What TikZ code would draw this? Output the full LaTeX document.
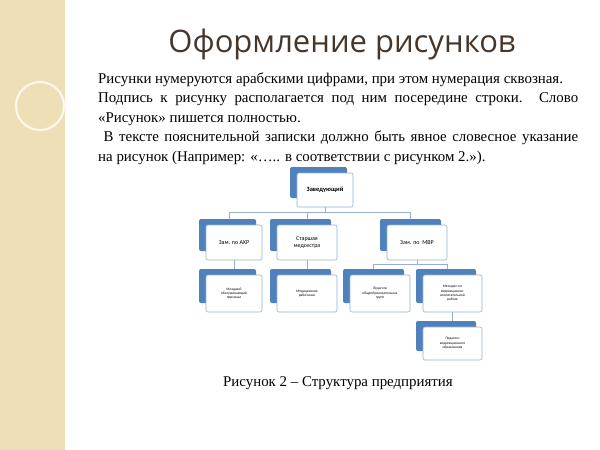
\documentclass[tikz,border=0pt]{standalone}
\usepackage{fontspec}
\setmainfont{Liberation Serif}
\newfontfamily\sansf{Carlito}
\newfontfamily\titlef{Open Sans}
\definecolor{beige}{RGB}{238,223,183}
\definecolor{bblue}{RGB}{79,129,189}
\definecolor{bedge}{RGB}{150,175,210}
\definecolor{titlec}{RGB}{70,55,45}
\tikzset{
 back/.style={fill=bblue,rounded corners=2pt},
 front/.style={fill=white,draw=bedge,line width=0.6pt,rounded corners=2pt},
 lbl/.style={font=\sansf\fontsize{6}{7}\selectfont,align=center},
 sml/.style={font=\sansf\fontsize{3.6}{4.4}\selectfont,align=center},
 conn/.style={draw=bedge,line width=0.8pt},
 txt/.style={anchor=base west,inner sep=0pt,font=\fontsize{14.9}{16}\selectfont}
}
\newcommand{\orgbox}[5]{%
 \fill[back] (#2-7,#3-6) rectangle (#4-6,#5-9);
 \draw[front] (#2,#3) rectangle (#4,#5);
 \node (#1) at ({(#2+#4)/2},{(#3+#5)/2}) [minimum width={#4-#2},minimum height={#5-#3},inner sep=0pt] {};
}
\begin{document}
\begin{tikzpicture}[x=1pt,y=-1pt]
\useasboundingbox (0,0) rectangle (600,450);
\fill[white] (0,0) rectangle (600,450);
\fill[beige] (0,0) rectangle (65,450);
\draw[white,line width=0.8pt] (48,0) arc[start angle=0,end angle=-95,radius=48];
\draw[white!80!beige,line width=2pt] (40,106) circle[radius=24];
\node[font=\titlef\fontsize{31}{33}\selectfont,text=titlec] (title) at (342,44) {Оформление рисунков};
\node[txt] (l1) at (98,83) {Рисунки нумеруются арабскими цифрами, при этом нумерация сквозная.};
\node[txt] (l2) at (98,102.5) {\makebox[480pt][s]{Подпись к рисунку располагается под ним посередине строки. Слово}};
\node[txt] (l3) at (98,122) {«Рисунок» пишется полностью.};
\node[txt] (l4) at (98,141.5) {\makebox[480pt][s]{\ В тексте пояснительной записки должно быть явное словесное указание}};
\node[txt] (l5) at (98,161) {на рисунок (Например: «….. в соответствии с рисунком 2.»).};
% connectors
\coordinate (h1) at (229,212);
\coordinate (h2) at (410,212);
\coordinate (hm) at (325,212);
\coordinate (h3a) at (373,264);
\coordinate (h3b) at (447,264);
\draw[conn] (h1) -- (h2);
\draw[conn] (hm) -- (325,207);
\draw[conn] (229,212) -- (229,225);
\draw[conn] (307,212) -- (307,225);
\draw[conn] (410,212) -- (410,225);
\draw[conn] (234,260) -- (234,275);
\draw[conn] (307,260) -- (307,275);
\draw[conn] (h3a) -- (h3b);
\draw[conn] (417,260) -- (417,264);
\draw[conn] (373,264) -- (373,275);
\draw[conn] (447,264) -- (447,275);
\draw[conn] (452,312) -- (452,327);
% boxes
\orgbox{zav}{297}{173}{353}{207}
\node[font=\sansf\bfseries\fontsize{6.5}{7}\selectfont] at (zav) {Заведующий};
\orgbox{axr}{206}{225}{262}{260}
\node[lbl] at (axr) {Зам. по АХР};
\orgbox{med}{277}{225}{337}{260}
\node[lbl] at (med) {Старшая\\медсестра};
\orgbox{mvr}{387}{225}{447}{260}
\node[lbl] at (mvr) {Зам. по \ МВР};
\orgbox{ml}{206}{275}{262}{312}
\node[sml] at (ml) {Младший\\обслуживающий\\персонал};
\orgbox{mr}{277}{275}{337}{312}
\node[sml] at (mr) {Медицинские\\работники};
\orgbox{pog}{350}{275}{410}{312}
\node[sml] at (pog) {Педагоги\\общеобразовательных\\групп};
\orgbox{met}{423}{275}{482}{312}
\node[sml] at (met) {Методист по\\коррекционно-\\воспитательной\\работе};
\orgbox{pko}{423}{327}{482}{360}
\node[sml] at (pko) {Педагоги\\коррекционного\\образования};
\node[font=\fontsize{14.9}{16}\selectfont] (cap) at (338,383) {Рисунок 2 – Структура предприятия};
\end{tikzpicture}
\end{document}
